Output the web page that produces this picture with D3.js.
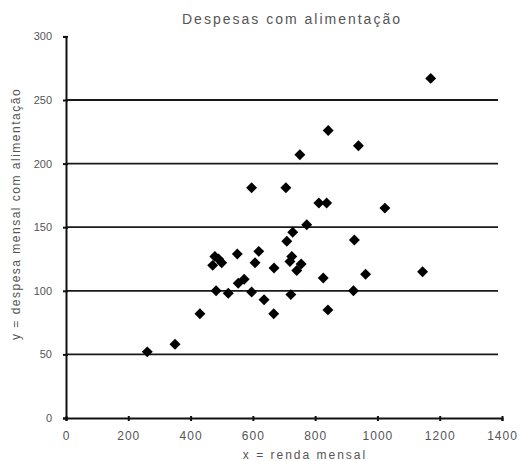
<!DOCTYPE html>
<html><head><meta charset="utf-8">
<script src="https://cdn.jsdelivr.net/npm/d3@7"></script>
<style>
body{margin:0;background:#fff;}
svg{display:block;}
text{font-family:"Liberation Sans Narrow","Liberation Sans",Arial,sans-serif;fill:#555;}
</style></head>
<body>
<svg id="c" width="519" height="461"></svg>
<script>
const title = "Despesas com alimentação";
const xTitle = "x = renda mensal";
const yTitle = "y = despesa mensal com alimentação";
const renda = [261,350,430,478,471,500,490,482,521,553,572,550,596,607,619,636,667,668,596,706,709,728,725,719,755,741,722,773,751,812,837,842,939,1024,926,826,841,923,962,1145,1171];
const despesa = [52,58,82,127,120,122,125,100,98,106,109,129,99,122,131,93,82,118,181,181,139,146,127,123,121,116,97,152,207,169,169,226,214,165,140,110,85,100,113,115,267];
const xTicks = [0,200,400,600,800,1000,1200,1400];
const yTicks = [0,50,100,150,200,250,300];
const gridVals = [50,100,150,200,250];

const svg = d3.select("#c");
const x = d3.scaleLinear().domain([0,1400]).range([66,502]);
const y = d3.scaleLinear().domain([0,300]).range([418,36.4]);

// gridlines
svg.append("g").selectAll("line").data(gridVals).join("line")
  .attr("x1", x(0)).attr("x2", x(1400)-4)
  .attr("y1", d=>y(d)).attr("y2", d=>y(d))
  .attr("stroke","#1a1a1a").attr("stroke-width",1.8);

// axes
const xa = svg.append("g").attr("transform",`translate(0,${y(0)})`)
  .call(d3.axisBottom(x).tickValues(xTicks).tickSize(3).tickPadding(10).tickFormat(d3.format("d")));
const ya = svg.append("g").attr("transform",`translate(${x(0)},0)`)
  .call(d3.axisLeft(y).tickValues(yTicks).tickSize(3).tickPadding(11).tickFormat(d3.format("d")));
[xa,ya].forEach(a=>{
  a.select(".domain").attr("stroke","#111").attr("stroke-width",2);
  a.selectAll(".tick line").attr("stroke","#111").attr("stroke-width",2);
  a.selectAll(".tick text").attr("fill","#555").style("font-size","12px");
});
xa.selectAll(".tick line").attr("y1",-2).attr("y2",3);
ya.selectAll(".tick line").attr("x1",2).attr("x2",-3);
xa.selectAll(".tick text").style("letter-spacing","1px");
ya.selectAll(".tick text").style("font-size","11px");

// points
svg.append("g").selectAll("path").data(renda.map((r,i)=>[r,despesa[i]])).join("path")
  .attr("d", d3.symbol().type(d3.symbolSquare).size(60))
  .attr("transform", d=>`translate(${x(d[0])},${y(d[1])}) rotate(45)`)
  .attr("fill","#000");

// titles
svg.append("text").attr("x",292).attr("y",24).attr("text-anchor","middle")
  .style("font-size","14px").style("letter-spacing","2px").attr("fill","#444").text(title);
svg.append("text").attr("x",305).attr("y",459).attr("text-anchor","middle")
  .style("font-size","12px").style("letter-spacing","2px").attr("fill","#555").text(xTitle);
svg.append("text").attr("transform","translate(20,214) rotate(-90)").attr("text-anchor","middle")
  .style("font-size","12px").style("letter-spacing","1.5px").attr("fill","#555").text(yTitle);
</script>
</body></html>
